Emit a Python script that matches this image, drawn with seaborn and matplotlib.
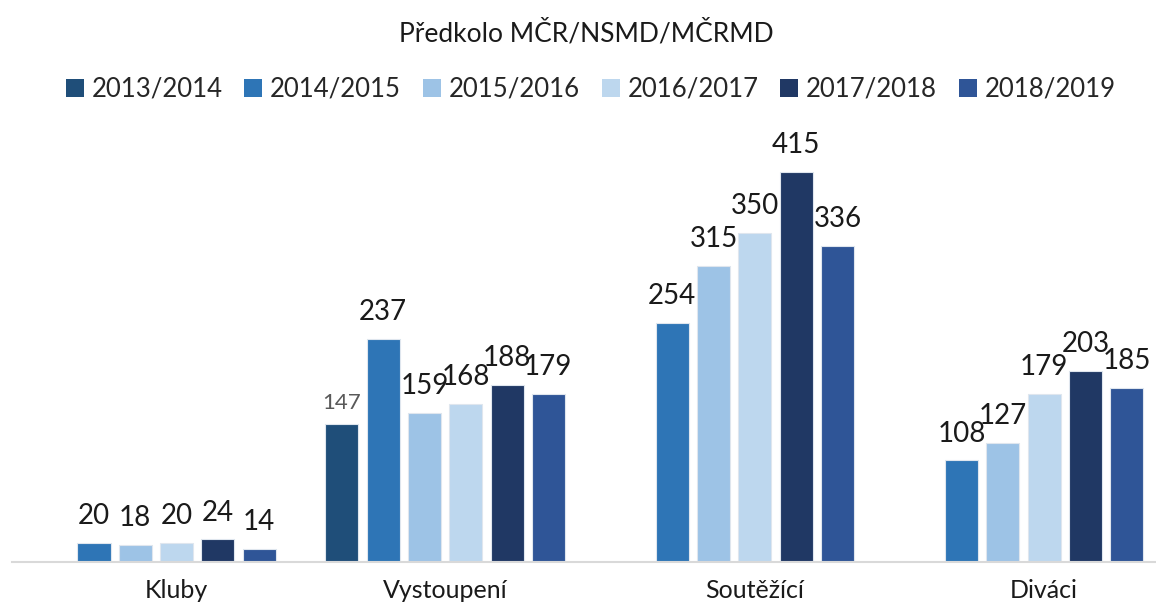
import numpy as np
import pandas as pd
import seaborn as sns
import matplotlib
matplotlib.use('Agg')
import matplotlib.pyplot as plt
from matplotlib.patches import Patch

# data
categories = ['Kluby', 'Vystoupení', 'Soutěžící', 'Diváci']
seasons = ['2013/2014', '2014/2015', '2015/2016', '2016/2017', '2017/2018', '2018/2019']
v_2013 = [np.nan, 147, np.nan, np.nan]
v_2014 = [20, 237, 254, 108]
v_2015 = [18, 159, 315, 127]
v_2016 = [20, 168, 350, 179]
v_2017 = [24, 188, 415, 203]
v_2018 = [14, 179, 336, 185]
values = [v_2013, v_2014, v_2015, v_2016, v_2017, v_2018]

colors = ['#1F4E79', '#2E75B6', '#9DC3E6', '#BDD7EE', '#203864', '#2F5597']

# layout: centre of each category group, in bar-slot units
group_centers = [2.0, 8.5, 16.0, 23.0]

rows = []
for ci, cat in enumerate(categories):
    present = [si for si in range(len(seasons)) if not np.isnan(values[si][ci])]
    start = group_centers[ci] - (len(present) - 1) / 2
    for k, si in enumerate(present):
        rows.append({'category': cat, 'season': seasons[si],
                     'value': values[si][ci], 'x': start + k})
df = pd.DataFrame(rows)

sns.set_theme(style='white')
plt.rcParams['font.family'] = ['Lato', 'DejaVu Sans']

fig = plt.figure(figsize=(11.56, 6.03), dpi=100)
ax = fig.add_axes([12 / 1156, 41 / 603, 1 - 12 / 1156, 0.7695 - 41 / 603])

sns.barplot(data=df, x='x', y='value', hue='season', hue_order=seasons,
            palette=dict(zip(seasons, colors)), native_scale=True, dodge=False,
            width=0.8, saturation=1, edgecolor='#dfe6ee', linewidth=0.8,
            legend=False, ax=ax)

for _, r in df.iterrows():
    if r['season'] == '2013/2014':
        ax.annotate(f"{int(r['value'])}", (r['x'], r['value']), xytext=(0, 8),
                    textcoords='offset points', ha='center', va='bottom',
                    fontsize=16, color='#595959')
    else:
        ax.annotate(f"{int(r['value'])}", (r['x'], r['value']), xytext=(0, 10),
                    textcoords='offset points', ha='center', va='bottom',
                    fontsize=20, color='#1a1a1a')

ax.set_xlim(-1.985, 25.71)
ax.set_ylim(0, 450)
ax.set_xticks(group_centers)
ax.set_xticklabels(categories, fontsize=18, color='#1a1a1a')
ax.tick_params(axis='x', length=0, pad=12)
ax.set_yticks([])
ax.set_xlabel('')
ax.set_ylabel('')
for s in ['top', 'left', 'right']:
    ax.spines[s].set_visible(False)
ax.spines['bottom'].set_color('#d9d9d9')
ax.spines['bottom'].set_linewidth(1.5)

handles = [Patch(facecolor=c, edgecolor='none') for c in colors]
fig.legend(handles, seasons, loc='center', bbox_to_anchor=(0.511, 0.852), ncol=6,
           frameon=False, fontsize=18.5, handlelength=0.7, handleheight=0.7,
           handletextpad=0.3, columnspacing=0.85)

fig.text(0.507, 0.945, 'Předkolo MČR/NSMD/MČRMD', ha='center', va='center',
         fontsize=19, color='#1a1a1a')

fig.savefig('out.png', dpi=100)
